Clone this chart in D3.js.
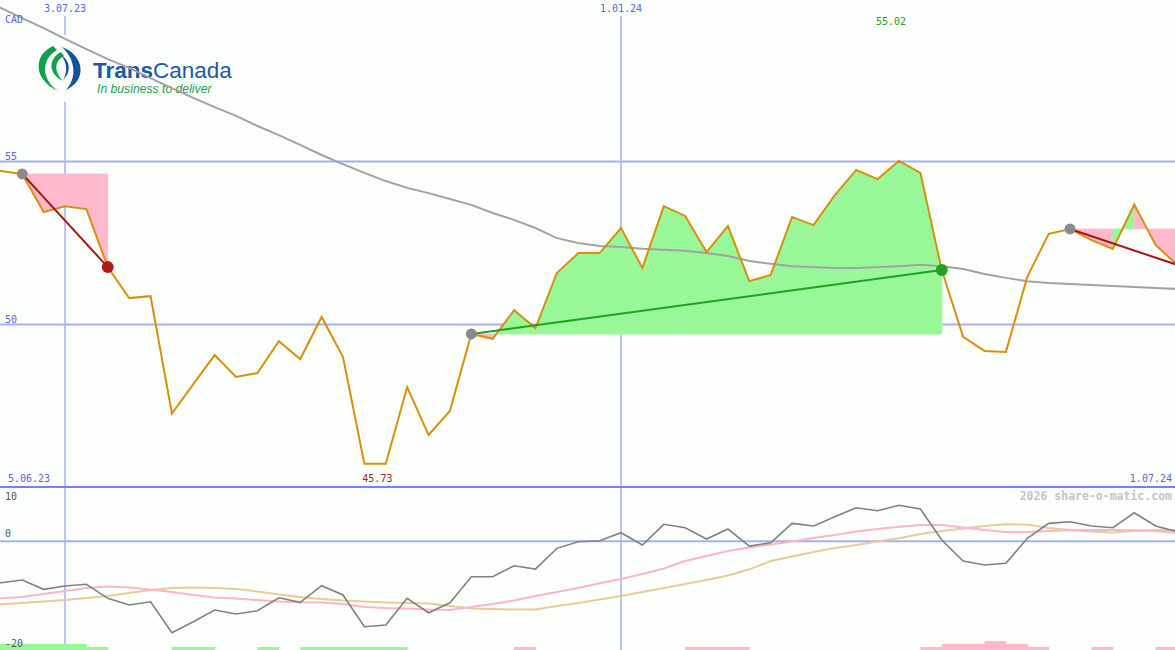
<!DOCTYPE html>
<html><head><meta charset="utf-8">
<script src="https://cdn.jsdelivr.net/npm/d3@7"></script>
<style>html,body{margin:0;padding:0;background:#fdfffd;} svg{display:block;}</style>
</head><body>
<svg id="c" width="1175" height="650"></svg>
<script>
// ---- data ----
const firstWeek = "2023-06-05";
const lastWeek = "2024-07-01";
const price = [54.75, 54.71, 54.62, 53.45, 53.63, 53.54, 51.76, 50.81, 50.87, 47.27,
  48.17, 49.06, 48.39, 48.51, 49.49, 48.94, 50.23, 49.00, 45.73, 45.73,
  48.08, 46.61, 47.35, 49.71, 49.56, 50.44, 49.89, 51.58, 52.19, 52.19,
  52.96, 51.73, 53.63, 53.33, 52.22, 53.02, 51.33, 51.52, 53.30, 53.05,
  53.97, 54.74, 54.46, 55.02, 54.65, 51.67, 49.62, 49.19, 49.16, 51.46,
  52.78, 52.93, 52.59, 52.32, 53.68, 52.44, 51.83];
const movingAvg = [59.97, 59.71, 59.40, 59.09, 58.76, 58.45, 58.14, 57.87, 57.56, 57.25,
  56.95, 56.67, 56.40, 56.09, 55.81, 55.51, 55.20, 54.92, 54.65, 54.40,
  54.19, 54.03, 53.85, 53.67, 53.42, 53.21, 52.96, 52.65, 52.50, 52.41,
  52.38, 52.32, 52.29, 52.26, 52.19, 52.10, 51.95, 51.86, 51.79, 51.76,
  51.73, 51.73, 51.76, 51.79, 51.83, 51.79, 51.70, 51.55, 51.43, 51.33,
  51.27, 51.24, 51.21, 51.18, 51.15, 51.12, 51.09];
const oscGray = [-7.5, -7.62, -7.12, -8.83, -8.23, -7.91, -10.49, -11.72, -11.12, -16.82,
  -14.80, -12.64, -13.38, -12.77, -10.38, -11.23, -8.17, -9.88, -15.72, -15.41,
  -10.49, -13.14, -11.30, -6.52, -6.52, -4.49, -5.10, -1.29, -0.07, 0.11,
  1.58, -0.68, 3.13, 2.50, 0.42, 2.26, -0.87, -0.26, 3.31, 2.82,
  4.53, 6.18, 5.63, 6.63, 5.95, 0.24, -3.63, -4.36, -4.05, 0.55,
  3.31, 3.61, 2.82, 2.50, 5.26, 2.82, 1.77];
const oscPink = [-10.80, -10.49, -10.25, -9.70, -9.15, -8.60, -8.32, -8.50, -8.87, -9.33,
  -9.88, -10.34, -10.53, -10.80, -11.08, -11.23, -11.26, -11.54, -12.09, -12.28,
  -12.37, -12.55, -12.64, -12.09, -11.54, -10.90, -10.07, -9.33, -8.60, -7.73,
  -6.94, -6.02, -5.01, -3.63, -2.71, -1.79, -1.14, -0.59, -0.04, 0.61,
  1.16, 1.80, 2.26, 2.69, 3.00, 3.00, 2.54, 2.08, 1.71, 1.71,
  1.90, 2.02, 2.08, 2.08, 2.02, 1.90, 1.53];
const oscTan = [-11.91, -11.60, -11.36, -11.08, -10.80, -10.44, -10.07, -9.52, -8.96, -8.60,
  -8.50, -8.60, -8.78, -9.24, -9.79, -10.25, -10.62, -10.90, -11.08, -11.26,
  -11.36, -11.45, -11.91, -12.37, -12.46, -12.55, -12.55, -11.91, -11.36, -10.71,
  -10.07, -9.33, -8.60, -7.86, -7.12, -6.29, -5.15, -3.63, -2.80, -1.97,
  -1.23, -0.68, -0.04, 0.55, 1.34, 1.90, 2.36, 2.82, 3.13, 3.09,
  2.45, 2.08, 1.80, 1.62, 1.90, 2.08, 2.08];
const signalBars = [2, 2, 2, 2, 2, 1, 0, 0, 0, 1,
  1, 0, 0, 1, 0, 1, 1, 1, 1, 1,
  0, 0, 0, 0, 0, -1, 0, 0, 0, 0,
  0, 0, 0, -1, -1, -1, 0, 0, 0, 0,
  0, 0, 0, 0, -1, -2, -2, -3, -2, -1,
  0, 0, -1, 0, 0, -1, 0];
const trades = [
  {entry: 2, exit: 6, open: false},
  {entry: 23, exit: 45, open: false},
  {entry: 51, exit: 56, open: true}
];
const gridDates = ["2023-07-03", "2024-01-01"];
const gridDateLabels = ["3.07.23", "1.01.24"];
const priceTicks = [55, 50];
const oscTickLabels = [10, 0, -20];
const edgeLabels = ["5.06.23", "1.07.24"];
const currency = "CAD";
const copyright = "2026 share-o-matic.com";

// ---- scales ----
const dates = d3.utcMonday.range(new Date(firstWeek), d3.utcDay.offset(new Date(lastWeek), 1));
const x = d3.scaleUtc().domain(gridDates.map(d => new Date(d))).range([65, 621]);
const y = d3.scaleLinear().domain([45, 55]).range([487.5, 161.5]);
const yo = d3.scaleLinear().domain([-20, 10]).range([650, 487]);
const yb = d3.scaleLinear().domain([0, 3]).range([0, 9]);

const svg = d3.select("#c");
const W = 1175, H = 650;
const GRID = "#a3b1f2", MONO = "DejaVu Sans Mono, monospace";

svg.append("rect").attr("width", W).attr("height", H).attr("fill", "#fdfffd");

// grid
svg.selectAll(".hg").data(priceTicks).join("line")
  .attr("x1", 0).attr("x2", W).attr("y1", d => y(d)).attr("y2", d => y(d))
  .attr("stroke", GRID).attr("stroke-width", 2);
svg.selectAll(".vg").data(gridDates).join("line")
  .attr("x1", d => x(new Date(d))).attr("x2", d => x(new Date(d)))
  .attr("y1", 16).attr("y2", H).attr("stroke", GRID).attr("stroke-width", 1.5);
svg.append("line").attr("x1", 0).attr("x2", W).attr("y1", yo(0)).attr("y2", yo(0))
  .attr("stroke", GRID).attr("stroke-width", 2);

// logo
const logo = svg.append("g");
logo.append("rect").attr("x", 28).attr("y", 35).attr("width", 212).attr("height", 67).attr("fill", "#fdfffd");
logo.append("path").attr("d", "M53,46 C35,54 31,78 58,91 C42,80 40,60 57,50 Z").attr("fill", "#12a04a");
logo.append("path").attr("d", "M61,52 C49,58 47,73 63,81 C54,72 54,61 64,56 Z").attr("fill", "#12a04a");
logo.append("path").attr("d", "M62,47 C84,55 88,80 66,90 C77,78 76,60 62,47 Z").attr("fill", "#14539a");
logo.append("path").attr("d", "M61,55 C70,60 72,72 63,80 C68,72 67,62 61,55 Z").attr("fill", "#14539a");
const lt = logo.append("text").attr("x", 93).attr("y", 78)
  .attr("font-family", "Liberation Sans, Arial, sans-serif").attr("font-size", 22.5).attr("fill", "#1b5aa5");
lt.append("tspan").attr("font-weight", "bold").text("Trans");
lt.append("tspan").text("Canada");
logo.append("text").attr("x", 97).attr("y", 93)
  .attr("font-family", "Liberation Sans, Arial, sans-serif").attr("font-style", "italic")
  .attr("font-size", 12.2).attr("fill", "#1aa048").text("In business to deliver");

// trade fills
trades.forEach(t => {
  const L = price[t.entry];
  for (let k = t.entry; k < t.exit; k++) {
    const pts = [[x(dates[k]), y(L)], [x(dates[k]), y(price[k])],
                 [x(dates[k + 1]), y(price[k + 1])], [x(dates[k + 1]), y(L)]];
    const col = price[k + 1] > L ? "#98f898" : "#ffb8cc";
    svg.append("path").attr("d", "M" + pts.map(p => p.join(",")).join("L") + "Z")
      .attr("fill", col).attr("stroke", col).attr("stroke-width", 0.7).attr("stroke-linejoin", "round");
  }
});

// moving average
const line = d3.line().x((d, i) => x(dates[i])).y(d => y(d));
svg.append("path").attr("d", line(movingAvg)).attr("fill", "none")
  .attr("stroke", "#a2a2a2").attr("stroke-width", 2);
// price
svg.append("path").attr("d", line(price)).attr("fill", "none")
  .attr("stroke", "#d8900c").attr("stroke-width", 2).attr("stroke-linejoin", "miter");

// trade lines & markers
trades.forEach(t => {
  const gain = price[t.exit] > price[t.entry];
  const col = gain ? "#22a022" : "#a41616";
  svg.append("line").attr("x1", x(dates[t.entry])).attr("y1", y(price[t.entry]))
    .attr("x2", x(dates[t.exit])).attr("y2", y(price[t.exit]))
    .attr("stroke", col).attr("stroke-width", 2);
});
trades.forEach(t => {
  const gain = price[t.exit] > price[t.entry];
  svg.append("circle").attr("cx", x(dates[t.entry])).attr("cy", y(price[t.entry])).attr("r", 5.5).attr("fill", "#8a8a8a");
  if (!t.open) svg.append("circle").attr("cx", x(dates[t.exit])).attr("cy", y(price[t.exit])).attr("r", 6)
    .attr("fill", gain ? "#22a022" : "#b01818");
});

// lower panel
const lo = d3.line().x((d, i) => x(dates[i])).y(d => yo(d));
svg.append("path").attr("d", lo(oscTan)).attr("fill", "none").attr("stroke", "#e6cc9a").attr("stroke-width", 2);
svg.append("path").attr("d", lo(oscPink)).attr("fill", "none").attr("stroke", "#ffb4c8").attr("stroke-width", 2);
svg.append("path").attr("d", lo(oscGray)).attr("fill", "none").attr("stroke", "#808080").attr("stroke-width", 1.6);
svg.selectAll(".bar").data(signalBars.map((v, i) => ({v, i})).filter(d => d.v !== 0 && d.i < dates.length - 1)).join("rect")
  .attr("x", d => x(dates[d.i])).attr("width", d => x(dates[d.i + 1]) - x(dates[d.i]) + 0.5)
  .attr("y", d => H - yb(Math.abs(d.v))).attr("height", d => yb(Math.abs(d.v)))
  .attr("fill", d => d.v > 0 ? "#98f898" : "#ffb8cc");

// separator
svg.append("line").attr("x1", 0).attr("x2", W).attr("y1", 487).attr("y2", 487)
  .attr("stroke", "#7484ea").attr("stroke-width", 2);

// texts
const txt = (s, xx, yy, col, anchor, size, weight) => svg.append("text").attr("x", xx).attr("y", yy)
  .attr("font-family", MONO).attr("font-size", size || 10).attr("fill", col)
  .attr("text-anchor", anchor || "start").attr("font-weight", weight || "normal").text(s);
gridDates.forEach((d, i) => txt(gridDateLabels[i], x(new Date(d)), 12, "#5a64e6", "middle"));
txt(currency, 5, 23, "#5a64e6");
priceTicks.forEach(v => txt(String(v), 5, y(v) - 2, "#5a64e6"));
const iMax = price.indexOf(d3.max(price)), iMin = price.indexOf(d3.min(price));
txt(d3.max(price).toFixed(2), x(dates[iMax]) - 8, 25, "#2a9a2a", "middle");
txt(d3.min(price).toFixed(2), x(dates[iMin]) + 13, 482, "#a42020", "middle");
txt(edgeLabels[0], 8, 482, "#5a64e6");
txt(edgeLabels[1], 1172, 482, "#5a64e6", "end");
txt(String(oscTickLabels[0]), 5, 500, "#555");
txt(String(oscTickLabels[1]), 5, yo(0) - 4, "#555");
txt(String(oscTickLabels[2]), 5, 647, "#555");
txt(copyright, 1172, 500, "#c4c4c4", "end", 11.5, "bold");
</script>
</body></html>
